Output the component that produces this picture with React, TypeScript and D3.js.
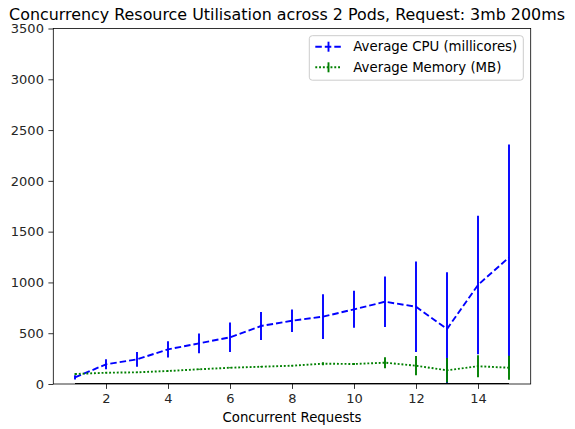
import { useEffect, useRef } from 'react';
import * as d3 from 'd3';

const requests = [1, 2, 3, 4, 5, 6, 7, 8, 9, 10, 11, 12, 13, 14, 15];
const cpuMean = [65, 194, 243, 341, 400, 460, 571, 623, 663, 735, 810, 761, 541, 975, 1247];
const cpuErr = [20, 50, 72, 79, 98, 145, 138, 110, 221, 182, 249, 445, 560, 682, 1110];
const memMean = [98, 111, 115, 128, 145, 160, 170, 180, 200, 197, 210, 180, 135, 175, 160];
const memErr = [5, 5, 5, 5, 5, 5, 5, 5, 15, 10, 54, 95, 120, 108, 118];
const baseline = [0, 0, 0, 0, 0, 0, 0, 0, 0, 0, 0, 0, 0, 0, 0];
const xTicks = [2, 4, 6, 8, 10, 12, 14];
const yTicks = [0, 500, 1000, 1500, 2000, 2500, 3000, 3500];

const series = [
  { label: 'Average CPU (millicores)', mean: cpuMean, err: cpuErr, color: '#0000ff', dash: '6.5,3' },
  { label: 'Average Memory (MB)', mean: memMean, err: memErr, color: '#008000', dash: '1.9,1.9' },
];

export default function App() {
  const svgRef = useRef<SVGSVGElement>(null);

  useEffect(() => {
    const W = 575;
    const H = 429;
    const margin = { top: 28.5, right: W - 530.7, bottom: H - 384, left: 53.3 };
    const width = W - margin.left - margin.right;
    const height = H - margin.top - margin.bottom;
    const font = 'DejaVu Sans, sans-serif';
    const lw = 1.9;

    const svg = d3.select(svgRef.current);
    svg.selectAll('*').remove();

    svg.append('defs').append('clipPath').attr('id', 'plot-clip')
      .append('rect').attr('width', width).attr('height', height);

    const g = svg.append('g').attr('transform', `translate(${margin.left},${margin.top})`);

    const x = d3.scaleLinear().domain([0.3, 15.7]).range([0, width]);
    const y = d3.scaleLinear().domain([0, 3500]).range([height, 0]);

    const plot = g.append('g').attr('clip-path', 'url(#plot-clip)');

    series.forEach(s => {
      const line = d3.line<number>()
        .x((_, i) => x(requests[i]))
        .y(d => y(d));

      plot.append('path')
        .datum(s.mean)
        .attr('fill', 'none')
        .attr('stroke', s.color)
        .attr('stroke-width', lw)
        .attr('stroke-dasharray', s.dash)
        .attr('d', line);

      plot.selectAll(null)
        .data(s.mean)
        .enter()
        .append('line')
        .attr('x1', (_, i) => x(requests[i]))
        .attr('x2', (_, i) => x(requests[i]))
        .attr('y1', (d, i) => y(d - s.err[i]))
        .attr('y2', (d, i) => y(d + s.err[i]))
        .attr('stroke', s.color)
        .attr('stroke-width', lw);
    });

    // zero line
    plot.append('path')
      .datum(baseline)
      .attr('fill', 'none')
      .attr('stroke', '#000')
      .attr('stroke-width', 2.2)
      .attr('d', d3.line<number>().x((_, i) => x(requests[i])).y(d => y(d)));

    // Frame
    g.append('rect')
      .attr('width', width)
      .attr('height', height)
      .attr('fill', 'none')
      .attr('stroke', '#000')
      .attr('stroke-width', 0.8);

    // Axes
    const xAxis = g.append('g')
      .attr('transform', `translate(0,${height})`)
      .call(d3.axisBottom(x).tickValues(xTicks).tickSize(4.9).tickPadding(4.5).tickFormat(d3.format('d')));
    const yAxis = g.append('g')
      .call(d3.axisLeft(y).tickValues(yTicks).tickSize(4.9).tickPadding(4.5).tickFormat(d3.format('d')));

    [xAxis, yAxis].forEach(a => {
      a.select('.domain').remove();
      a.selectAll('line').attr('stroke', '#000').attr('stroke-width', 0.8);
      a.selectAll('text').attr('font-family', font).attr('font-size', 13).attr('fill', '#262626');
    });

    // Title
    svg.append('text')
      .attr('x', 287)
      .attr('y', 20)
      .attr('text-anchor', 'middle')
      .attr('font-family', font)
      .attr('font-size', 15.9)
      .attr('fill', '#000')
      .text('Concurrency Resource Utilisation across 2 Pods, Request: 3mb 200ms');

    // X label
    svg.append('text')
      .attr('x', margin.left + width / 2)
      .attr('y', 422)
      .attr('text-anchor', 'middle')
      .attr('font-family', font)
      .attr('font-size', 13.3)
      .attr('fill', '#000')
      .text('Concurrent Requests');

    // Legend
    const legend = svg.append('g').attr('transform', 'translate(309.3,35.7)');
    legend.append('rect')
      .attr('width', 214)
      .attr('height', 44.5)
      .attr('rx', 3)
      .attr('fill', 'rgba(255,255,255,0.8)')
      .attr('stroke', '#cccccc')
      .attr('stroke-width', 1);

    series.forEach((s, i) => {
      const cy = 11 + i * 20.6;
      const row = legend.append('g').attr('transform', `translate(0,${cy})`);
      row.append('line')
        .attr('x1', 6).attr('x2', 32.4)
        .attr('stroke', s.color)
        .attr('stroke-width', lw)
        .attr('stroke-dasharray', s.dash);
      row.append('line')
        .attr('x1', 19.2).attr('x2', 19.2)
        .attr('y1', -5).attr('y2', 5)
        .attr('stroke', s.color)
        .attr('stroke-width', lw);
      row.append('text')
        .attr('x', 44)
        .attr('y', 0)
        .attr('dy', '0.35em')
        .attr('font-family', font)
        .attr('font-size', 13.3)
        .attr('fill', '#000')
        .text(s.label);
    });
  }, []);

  return (
    <svg
      ref={svgRef}
      width={575}
      height={429}
      style={{ position: 'absolute', left: 0, top: 0, background: '#fff' }}
    />
  );
}
